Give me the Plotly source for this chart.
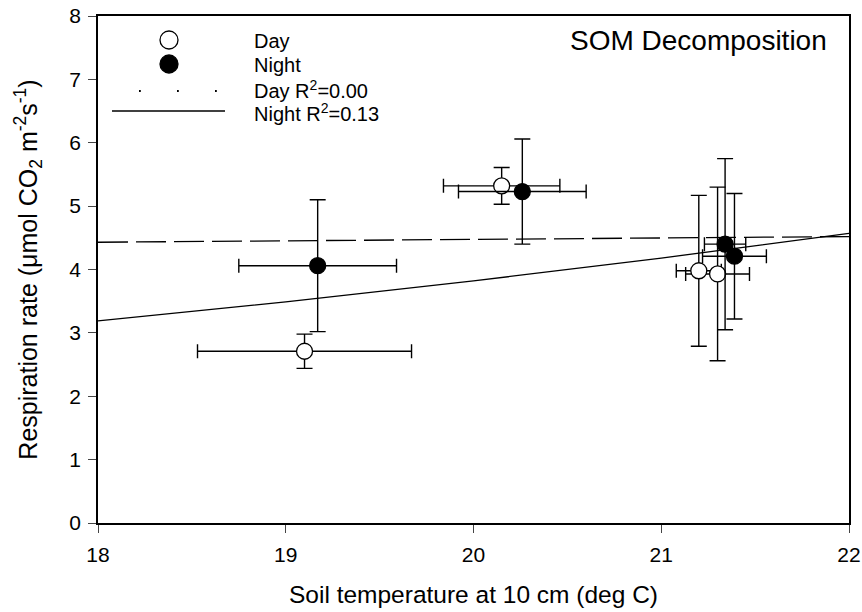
import plotly.graph_objects as go

# Data
day_x = [19.10, 20.15, 21.20, 21.30]
day_y = [2.71, 5.32, 3.98, 3.93]
day_xerr = [0.57, 0.31, 0.12, 0.17]
day_yerr = [0.27, 0.29, 1.19, 1.37]

night_x = [19.17, 20.26, 21.34, 21.39]
night_y = [4.06, 5.23, 4.40, 4.21]
night_xerr = [0.42, 0.34, 0.11, 0.17]
night_yerr = [1.04, 0.83, 1.35, 0.99]

fit_x = [18, 19, 20, 21, 22]
day_fit_y = [4.43, 4.45, 4.47, 4.50, 4.52]
night_fit_y = [3.19, 3.49, 3.82, 4.18, 4.57]

x_ticks = [18, 19, 20, 21, 22]
y_ticks = [0, 1, 2, 3, 4, 5, 6, 7, 8]

legend_labels = ["Day", "Night", "Day R<sup>2</sup>=0.00", "Night R<sup>2</sup>=0.13"]

FONT = "Liberation Sans, Arial, sans-serif"

fig = go.Figure()

fig.add_trace(go.Scatter(x=fit_x, y=day_fit_y, mode="lines",
                         line=dict(color="black", width=1.3, dash="30px,8px"),
                         showlegend=False, hoverinfo="skip"))
fig.add_trace(go.Scatter(x=fit_x, y=night_fit_y, mode="lines",
                         line=dict(color="black", width=1.3),
                         showlegend=False, hoverinfo="skip"))

errstyle = dict(color="black", thickness=1.4)
fig.add_trace(go.Scatter(
    x=day_x, y=day_y, mode="markers",
    marker=dict(symbol="circle", size=16, color="white", line=dict(color="black", width=1.3)),
    error_x=dict(type="data", array=day_xerr, width=7, **errstyle),
    error_y=dict(type="data", array=day_yerr, width=8, **errstyle),
    showlegend=False))
fig.add_trace(go.Scatter(
    x=night_x, y=night_y, mode="markers",
    marker=dict(symbol="circle", size=16, color="black", line=dict(color="black", width=1.3)),
    error_x=dict(type="data", array=night_xerr, width=7, **errstyle),
    error_y=dict(type="data", array=night_yerr, width=8, **errstyle),
    showlegend=False))

# Manual legend (paper coordinates)
W, H = 862, 612
L, R, T, B = 98, 13, 16, 89
pw, ph = W - L - R, H - T - B


def px(xp):
    return (xp - L) / pw


def py(yp):
    return 1 - (yp - T) / ph


shapes = []
annotations = []
rows = [40, 64, 88, 112]
sym_cx = 169
r = 9
shapes.append(dict(type="circle", xref="paper", yref="paper",
                   x0=px(sym_cx - r), x1=px(sym_cx + r), y0=py(rows[0] + r), y1=py(rows[0] - r),
                   fillcolor="white", line=dict(color="black", width=1.3)))
shapes.append(dict(type="circle", xref="paper", yref="paper",
                   x0=px(sym_cx - r), x1=px(sym_cx + r), y0=py(rows[1] + r), y1=py(rows[1] - r),
                   fillcolor="black", line=dict(color="black", width=1.3)))
for dx in [139, 177, 215]:
    shapes.append(dict(type="line", xref="paper", yref="paper",
                       x0=px(dx), x1=px(dx + 1.8), y0=py(rows[2] + 3), y1=py(rows[2] + 3),
                       line=dict(color="black", width=1.8)))
shapes.append(dict(type="line", xref="paper", yref="paper",
                   x0=px(112), x1=px(225), y0=py(rows[3] - 1), y1=py(rows[3] - 1),
                   line=dict(color="black", width=1.3)))
for yrow, lab in zip(rows, legend_labels):
    annotations.append(dict(text=lab, xref="paper", yref="paper", x=px(252), y=py(yrow + 1),
                            xanchor="left", yanchor="middle", showarrow=False,
                            font=dict(family=FONT, size=20, color="black")))

annotations.append(dict(text="SOM Decomposition", xref="paper", yref="paper",
                        x=px(829), y=py(40), xanchor="right", yanchor="middle",
                        showarrow=False, font=dict(family=FONT, size=28, color="black")))

fig.update_layout(
    width=W, height=H,
    margin=dict(l=L, r=R, t=T, b=B, autoexpand=False),
    paper_bgcolor="white", plot_bgcolor="white",
    font=dict(family=FONT, size=20, color="black"),
    shapes=shapes, annotations=annotations,
    showlegend=False,
)
fig.update_xaxes(range=[18, 22], tickvals=x_ticks, ticks="outside", ticklen=8, tickwidth=1.3,
                 showline=True, linecolor="black", linewidth=1.5, mirror=True, showgrid=False,
                 zeroline=False, tickfont=dict(size=21), automargin=False, ticklabelstandoff=4,
                 title=dict(text="Soil temperature at 10 cm (deg C)", font=dict(size=24.5), standoff=21))
fig.update_yaxes(range=[0, 8], tickvals=y_ticks, ticks="outside", ticklen=8, tickwidth=1.3,
                 showline=True, linecolor="black", linewidth=1.5, mirror=True, showgrid=False,
                 zeroline=False, tickfont=dict(size=21), automargin=False, ticklabelstandoff=3,
                 title=dict(text="Respiration rate (μmol CO<sub>2</sub> m<sup>-2</sup>s<sup>-1</sup>)",
                            font=dict(size=25), standoff=25))

fig.write_html("out.html", config={"displayModeBar": False},
               post_script="document.body.style.margin='0px';")
